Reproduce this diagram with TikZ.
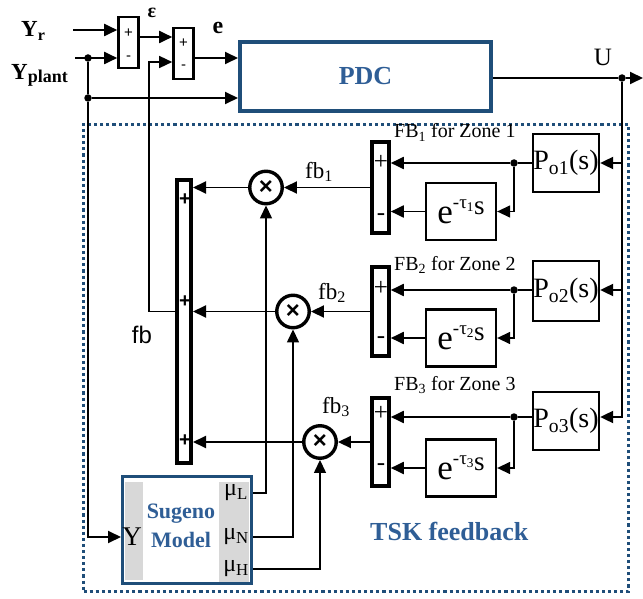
\documentclass[tikz,border=0pt]{standalone}
\usepackage{fontspec}
\setmainfont{Liberation Serif}
\setsansfont{Liberation Sans}
\usetikzlibrary{arrows.meta,positioning}
\definecolor{frameCol}{RGB}{31, 78, 121}
\definecolor{titleCol}{RGB}{47, 94, 150}
\definecolor{stripCol}{RGB}{216, 216, 216}
\newcommand{\pxFont}[1]{\fontsize{#1}{#1}\selectfont}
\newcommand{\delayTxt}[1]{{\pxFont{35}e}\raisebox{15pt}{\pxFont{19}-τ\textsubscript{#1}}\raisebox{9pt}{\pxFont{27}s}}

\begin{document}
\begin{tikzpicture}[
    x=1pt, y=-1pt,
    >={Triangle[length=13pt,width=12pt]},
    % Signal Line Styles
    sigLine/.style={line width=1.9pt},
    sigArrow/.style={->, line width=1.9pt},
    thinArrow/.style={->, line width=1.4pt},
    % Junction Dot Style
    joinDot/.style={circle, fill=black, inner sep=0pt, minimum size=7.5pt},
    % Input Summing Block Style
    inSum/.style={draw, line width=2.6pt, minimum width=20pt, minimum height=51pt, inner sep=0pt},
    % Feedback Summing Block Style
    fbSum/.style={draw, line width=3.6pt, minimum width=17pt, inner sep=0pt},
    % Transfer Function Block Style
    tfBlock/.style={draw, line width=2.3pt, minimum width=66pt, inner sep=0pt},
    % Multiplier Node Style
    mulNode/.style={circle, draw, line width=3.4pt, minimum size=32.5pt, inner sep=0pt,
        font=\sffamily\bfseries\pxFont{24}},
    % Blue Block Style
    blueBlock/.style={draw=frameCol, fill=white, inner sep=0pt, align=center, text=titleCol},
    % Sign and Label Text Styles
    signTxt/.style={inner sep=0pt, font=\sffamily\pxFont{15}},
    fbSign/.style={inner sep=0pt, font=\pxFont{25}},
    barSign/.style={inner sep=0pt, font=\sffamily\bfseries\pxFont{20}},
    sigLabel/.style={inner sep=0pt, font=\pxFont{23}}
]

    % Canvas size
    \useasboundingbox (0,0) rectangle (643,599);

    % TSK feedback frame
    \node[draw=frameCol, line width=3.1pt, dash pattern=on 3.1pt off 3pt,
        minimum width=545pt, minimum height=467pt, inner sep=0pt] (tskFrame) at (356,358) {};
    \node[inner sep=0pt, anchor=base west, font=\bfseries\pxFont{26}, text=titleCol]
        (tskLabel) at (370,540) {TSK feedback};

    % Input summing blocks
    \node[inSum] (sumY) at (128.5,42.5) {};
    \node[inSum] (sumE) at (183.5,53.5) {};
    \node[signTxt] (sumYPlus) at (128.5,33) {+};
    \node[signTxt] (sumYMinus) at (128.5,58) {-};
    \node[signTxt] (sumEPlus) at (183.5,43) {+};
    \node[signTxt] (sumEMinus) at (183.5,67) {-};

    % Controller
    \node[blueBlock, line width=4pt, minimum width=251pt, minimum height=69pt,
        font=\bfseries\pxFont{26}] (pdc) at (365.5,76.5) {PDC};

    % Input labels
    \node[sigLabel, anchor=base west, font=\bfseries\pxFont{23}] (yrLabel) at (21,37) {Y\textsubscript{r}};
    \node[sigLabel, anchor=base west, font=\bfseries\pxFont{23}] (ypLabel) at (11,80)
        {Y\raisebox{-3pt}{\pxFont{18}plant}};
    \node[sigLabel, font=\bfseries\pxFont{20}] (epsLabel) at (152,13) {ε};
    \node[sigLabel, font=\bfseries\pxFont{24}] (eLabel) at (218,28) {e};
    \node[sigLabel, font=\pxFont{25}] (uLabel) at (603,57) {U};

    % Junction dots
    \node[joinDot] (ypDot) at (88,58) {};
    \node[joinDot] (ypDotTwo) at (88,98) {};
    \node[joinDot] (uDot) at (622,78) {};
    \node[joinDot] (dotOne) at (514,163) {};
    \node[joinDot] (dotTwo) at (514,290) {};
    \node[joinDot] (dotThree) at (514,417) {};

    % Zone plants
    \node[tfBlock, minimum height=58pt, font=\pxFont{28}] (plantOne) at (566,163) {P\textsubscript{o1}(s)};
    \node[tfBlock, minimum height=60pt, font=\pxFont{28}] (plantTwo) at (566,291) {P\textsubscript{o2}(s)};
    \node[tfBlock, minimum height=58pt, font=\pxFont{28}] (plantThree) at (566,421) {P\textsubscript{o3}(s)};

    % Delay blocks
    \node[tfBlock, minimum width=70pt, minimum height=57pt] (delayOne) at (461,211.5) {\delayTxt{1}};
    \node[tfBlock, minimum width=70pt, minimum height=57pt] (delayTwo) at (461,338) {\delayTxt{2}};
    \node[tfBlock, minimum width=70pt, minimum height=57pt] (delayThree) at (461,468) {\delayTxt{3}};

    % Zone feedback summing blocks
    \node[fbSum, minimum height=91.4pt] (fbSumOne) at (380.5,187.5) {};
    \node[fbSum, minimum height=89.4pt] (fbSumTwo) at (380.5,311.5) {};
    \node[fbSum, minimum height=88.4pt] (fbSumThree) at (380.5,442) {};
    \node[fbSign] (fbOnePlus) at (381,162) {+};
    \node[fbSign] (fbOneMinus) at (381,217) {-};
    \node[fbSign] (fbTwoPlus) at (381,288) {+};
    \node[fbSign] (fbTwoMinus) at (381,340) {-};
    \node[fbSign] (fbThreePlus) at (381,413) {+};
    \node[fbSign] (fbThreeMinus) at (381,467) {-};
    \node[sigLabel, anchor=base west, font=\pxFont{20}] (zoneOne) at (394,138) {FB\textsubscript{1} for Zone 1};
    \node[sigLabel, anchor=base west, font=\pxFont{20}] (zoneTwo) at (394,270) {FB\textsubscript{2} for Zone 2};
    \node[sigLabel, anchor=base west, font=\pxFont{20}] (zoneThree) at (394,390) {FB\textsubscript{3} for Zone 3};

    % Multipliers
    \node[mulNode] (mulOne) at (266,187.5) {×};
    \node[mulNode] (mulTwo) at (293,311.5) {×};
    \node[mulNode] (mulThree) at (320,442) {×};
    \node[sigLabel] (fbOneLabel) at (319,172) {fb\textsubscript{1}};
    \node[sigLabel] (fbTwoLabel) at (332,293) {fb\textsubscript{2}};
    \node[sigLabel] (fbThreeLabel) at (336,407) {fb\textsubscript{3}};

    % Output summing bar
    \node[fbSum, minimum width=14.4pt, minimum height=283.4pt] (sumBar) at (184,321.5) {};
    \node[barSign] (barPlusOne) at (185,200) {+};
    \node[barSign] (barPlusTwo) at (185,302) {+};
    \node[barSign] (barPlusThree) at (185,441) {+};
    \node[sigLabel, font=\sffamily\pxFont{24}] (fbLabel) at (142,335) {fb};

    % Sugeno model
    \node[blueBlock, line width=3.4pt, minimum width=128.6pt, minimum height=106.6pt] (sugeno) at (187,530) {};
    \fill[stripCol] (125,482) rectangle (143,580);
    \fill[stripCol] (219,482) rectangle (249,582);
    \node[inner sep=0pt, align=center, text=titleCol, font=\bfseries\fontsize{22}{29}\selectfont]
        (sugenoTxt) at (181,526) {Sugeno\\Model};
    \node[sigLabel, font=\pxFont{27}] (sugY) at (132,537) {Y};
    \node[sigLabel, font=\pxFont{24}] (muL) at (236,493) {μ\textsubscript{L}};
    \node[sigLabel, font=\pxFont{24}] (muN) at (236,537) {μ\textsubscript{N}};
    \node[sigLabel, font=\pxFont{24}] (muH) at (236,569) {μ\textsubscript{H}};

    % Reference and plant inputs
    \coordinate (yrStart) at (73,30);
    \coordinate (ypStart) at (75,58);
    \draw[sigArrow] (yrStart) -- (yrStart -| sumY.west);
    \draw[sigArrow] (ypStart) -- (ypStart -| sumY.west);
    \draw[sigLine] (ypDot) -- (ypDotTwo);
    \draw[sigArrow] (ypDotTwo) -- (ypDotTwo -| pdc.west);
    \draw[sigArrow] (ypDotTwo) |- (sugY -| sugeno.west);

    % Error path
    \draw[sigArrow] ([yshift=5.5pt]sumY.east) -- ([yshift=5.5pt]sumY.east -| sumE.west);
    \draw[sigArrow] ([yshift=-4.5pt]sumE.east) -- ([yshift=-4.5pt]sumE.east -| pdc.west);
    \coordinate (fbTurn) at (149,311.5);
    \draw[thinArrow] (sumBar.west |- fbTurn) -- (fbTurn) |- ([yshift=-8.5pt]sumE.west);

    % Control output U
    \coordinate (uEnd) at (643,78);
    \draw[sigLine] (pdc.east |- uDot) -- (uDot);
    \draw[sigArrow] (uDot) -- (uEnd);
    \draw[sigArrow] (uDot) |- (plantThree.east |- dotThree);
    \draw[sigArrow] (uDot |- dotOne) -- (plantOne.east |- dotOne);
    \draw[sigArrow] (uDot |- dotTwo) -- (plantTwo.east |- dotTwo);

    % Zone 1 feedback
    \draw[sigLine] (plantOne.west |- dotOne) -- (dotOne);
    \draw[sigArrow] (dotOne) -- (dotOne -| fbSumOne.east);
    \draw[thinArrow] (dotOne) |- (delayOne.east);
    \draw[sigArrow] (delayOne.west) -- (delayOne.west -| fbSumOne.east);
    \draw[sigArrow] (fbSumOne.west) -- (mulOne.east);
    \draw[sigArrow] (mulOne.west) -- (mulOne.west -| sumBar.east);

    % Zone 2 feedback
    \draw[sigLine] (plantTwo.west |- dotTwo) -- (dotTwo);
    \draw[sigArrow] (dotTwo) -- (dotTwo -| fbSumTwo.east);
    \draw[thinArrow] (dotTwo) |- (delayTwo.east);
    \draw[sigArrow] (delayTwo.west) -- (delayTwo.west -| fbSumTwo.east);
    \draw[sigArrow] (fbSumTwo.west) -- (mulTwo.east);
    \draw[sigArrow] (mulTwo.west) -- (mulTwo.west -| sumBar.east);

    % Zone 3 feedback
    \draw[sigLine] (plantThree.west |- dotThree) -- (dotThree);
    \draw[sigArrow] (dotThree) -- (dotThree -| fbSumThree.east);
    \draw[thinArrow] (dotThree) |- (delayThree.east);
    \draw[sigArrow] (delayThree.west) -- (delayThree.west -| fbSumThree.east);
    \draw[sigArrow] (fbSumThree.west) -- (mulThree.east);
    \draw[sigArrow] (mulThree.west) -- (mulThree.west -| sumBar.east);

    % Membership weights
    \draw[thinArrow] (sugeno.east |- muL) -| (mulOne.south);
    \draw[thinArrow] (sugeno.east |- muN) -| (mulTwo.south);
    \draw[thinArrow] (sugeno.east |- muH) -| (mulThree.south);

\end{tikzpicture}
\end{document}
